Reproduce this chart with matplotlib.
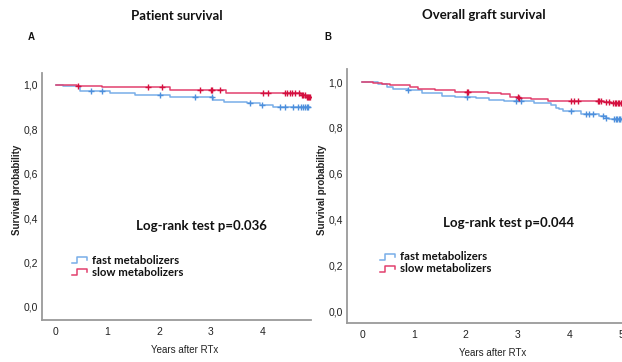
import matplotlib
matplotlib.use("Agg")
import matplotlib.pyplot as plt
from matplotlib.lines import Line2D
import numpy as np

# ---------------- data ----------------
# Panel A: patient survival
a_fast_t = [0, 0.14, 0.47, 1.05, 1.53, 2.21, 3.04, 3.26, 3.70, 3.95, 4.20]
a_fast_s = [1.0, 0.994, 0.974, 0.965, 0.956, 0.946, 0.932, 0.923, 0.918, 0.911, 0.902]
a_fast_c = [0.67, 0.89, 2.02, 2.69, 3.02, 3.76, 3.99, 4.34, 4.44, 4.59, 4.69, 4.75, 4.79, 4.83, 4.86, 4.89]
a_fast_end = 4.92

a_slow_t = [0, 0.40, 0.90, 2.20, 3.30, 4.75, 4.85]
a_slow_s = [1.0, 0.996, 0.991, 0.977, 0.963, 0.954, 0.947]
a_slow_c = [0.43, 1.78, 2.05, 2.79, 3.00, 3.02, 3.18, 4.01, 4.11, 4.44, 4.47, 4.53, 4.58, 4.63,
            4.70, 4.76, 4.79, 4.83, 4.86, 4.88, 4.90, 4.92]
a_slow_end = 4.93

# Panel B: overall graft survival
b_fast_t = [0, 0.31, 0.48, 0.60, 0.89, 1.16, 1.55, 1.80, 2.19, 2.44, 2.73, 3.31, 3.64,
            3.73, 3.79, 3.87, 4.22, 4.56, 4.70, 4.76]
b_fast_s = [1.0, 0.990, 0.979, 0.971, 0.965, 0.951, 0.939, 0.934, 0.929, 0.921, 0.918,
            0.910, 0.898, 0.888, 0.881, 0.872, 0.859, 0.852, 0.843, 0.837]
b_fast_c = [0.89, 2.03, 2.96, 3.06, 4.02, 4.31, 4.37, 4.45, 4.64, 4.70, 4.86, 4.89, 4.92,
            4.95, 4.98, 5.01]
b_fast_end = 5.05

b_slow_t = [0, 0.21, 0.39, 0.54, 0.93, 1.08, 1.41, 1.80, 2.42, 2.67, 2.86, 3.02, 3.25,
            3.58, 4.66, 4.80]
b_slow_s = [1.0, 0.997, 0.993, 0.986, 0.978, 0.971, 0.964, 0.958, 0.951, 0.946, 0.936,
            0.930, 0.924, 0.918, 0.913, 0.907]
b_slow_c = [2.03, 2.05, 3.00, 3.02, 4.02, 4.08, 4.16, 4.55, 4.57, 4.60, 4.70, 4.76, 4.84,
            4.87, 4.90, 4.93, 4.96, 4.99, 5.02]
b_slow_end = 5.05

titles = ["Patient survival", "Overall graft survival"]
panel_letters = ["A", "B"]
pvalues = ["Log-rank test p=0.036", "Log-rank test p=0.044"]
legend_labels = ["fast metabolizers", "slow metabolizers"]
yticks = [0.0, 0.2, 0.4, 0.6, 0.8, 1.0]
ytick_labels = ["0,0", "0,2", "0,4", "0,6", "0,8", "1,0"]
xtick_a = [0, 1, 2, 3, 4]
xtick_b = [0, 1, 2, 3, 4, 5]
xlabel = "Years after RTx"
ylabel = "Survival probability"

# ---------------- style ----------------
W, H = 622, 362
BLUE = "#78aee8"
BLUE_D = "#4d8fdc"
RED = "#e2406e"
RED_D = "#d4103f"
SPINE = "#9a9a9a"
TXT = "#222222"
NARROW = ["Liberation Sans Narrow", "Liberation Sans", "DejaVu Sans"]
CAL = ["Lato", "DejaVu Sans"]

fig = plt.figure(figsize=(W / 100, H / 100), dpi=100)
fig.patch.set_facecolor("white")


def fx(x):
    return x / W


def fy(y):
    return 1 - y / H


def km(ax, t, s, cens, end, color, cdark):
    tt = list(t) + [end]
    ss = list(s) + [s[-1]]
    ax.step(tt, ss, where="post", color=color, lw=1.1, zorder=3)
    t_arr = np.array(t)
    s_arr = np.array(s)
    cy = [s_arr[np.searchsorted(t_arr, c, side="right") - 1] for c in cens]
    ax.plot(cens, cy, ls="none", marker="+", ms=4.5, mew=1.0, color=cdark, zorder=4)


panels = [
    dict(box=(42, 73, 311, 320), xlim=(-0.27, 4.94), ylim=(-0.059, 1.054), xt=xtick_a,
         series=[(a_fast_t, a_fast_s, a_fast_c, a_fast_end, BLUE, BLUE_D),
                 (a_slow_t, a_slow_s, a_slow_c, a_slow_end, RED, RED_D)],
         title=(177, 16), letter=(31, 37), ylab=(17, 190), xlab=(185, 350),
         pv=(201, 226), leg=(72, 260)),
    dict(box=(347, 69, 623, 323), xlim=(-0.29, 5.03), ylim=(-0.052, 1.057), xt=xtick_b,
         series=[(b_fast_t, b_fast_s, b_fast_c, b_fast_end, BLUE, BLUE_D),
                 (b_slow_t, b_slow_s, b_slow_c, b_slow_end, RED, RED_D)],
         title=(484, 15), letter=(328, 37), ylab=(322, 190), xlab=(493, 353),
         pv=(509, 223), leg=(380, 257)),
]

for i, p in enumerate(panels):
    x0, y0, x1, y1 = p["box"]
    ax = fig.add_axes([fx(x0), fy(y1), fx(x1 - x0), (y1 - y0) / H])
    ax.set_xlim(*p["xlim"])
    ax.set_ylim(*p["ylim"])
    for sp in ["top", "right"]:
        ax.spines[sp].set_visible(False)
    for sp in ["left", "bottom"]:
        ax.spines[sp].set_color(SPINE)
        ax.spines[sp].set_linewidth(1.3)
    ax.set_yticks(yticks)
    ax.set_yticklabels(ytick_labels, family=NARROW, fontsize=7.5, color=TXT)
    ax.set_xticks(p["xt"])
    ax.set_xticklabels([str(v) for v in p["xt"]], family=NARROW, fontsize=7.5, color=TXT)
    ax.tick_params(axis="y", length=0, pad=3)
    ax.tick_params(axis="x", length=0, pad=5)
    ax.patch.set_alpha(0)
    for (t, s, c, e, col, cd) in p["series"]:
        km(ax, t, s, c, e, col, cd)

    fig.text(fx(p["title"][0]), fy(p["title"][1]), titles[i], ha="center", va="center",
             family=CAL, fontweight="bold", fontsize=9.5, color="#111111")
    fig.text(fx(p["letter"][0]), fy(p["letter"][1]), panel_letters[i], ha="center",
             va="center", family=["Liberation Sans", "DejaVu Sans"], fontweight="bold",
             fontsize=7, color="#111111")
    fig.text(fx(p["ylab"][0]), fy(p["ylab"][1]), ylabel, ha="center", va="center",
             rotation=90, family=NARROW, fontweight="bold", fontsize=7, color=TXT)
    fig.text(fx(p["xlab"][0]), fy(p["xlab"][1]), xlabel, ha="center", va="center",
             family=NARROW, fontsize=7, color=TXT)
    fig.text(fx(p["pv"][0]), fy(p["pv"][1]), pvalues[i], ha="center", va="center",
             family=CAL, fontweight="bold", fontsize=9.5, color="#111111")

    lx, ly = p["leg"]
    for j, col in enumerate([BLUE, RED]):
        yy = ly + j * 12
        xs = [lx, lx + 5, lx + 5, lx + 15, lx + 15]
        ys = [yy + 3, yy + 3, yy - 3, yy - 3, yy]
        fig.add_artist(Line2D([fx(v) for v in xs], [fy(v) for v in ys],
                              transform=fig.transFigure, color=col, lw=1.1))
        fig.text(fx(lx + 20), fy(yy), legend_labels[j], ha="left", va="center",
                 family=CAL, fontweight="bold", fontsize=8.2, color="#111111")

fig.savefig("out.png", dpi=100, facecolor="white")
